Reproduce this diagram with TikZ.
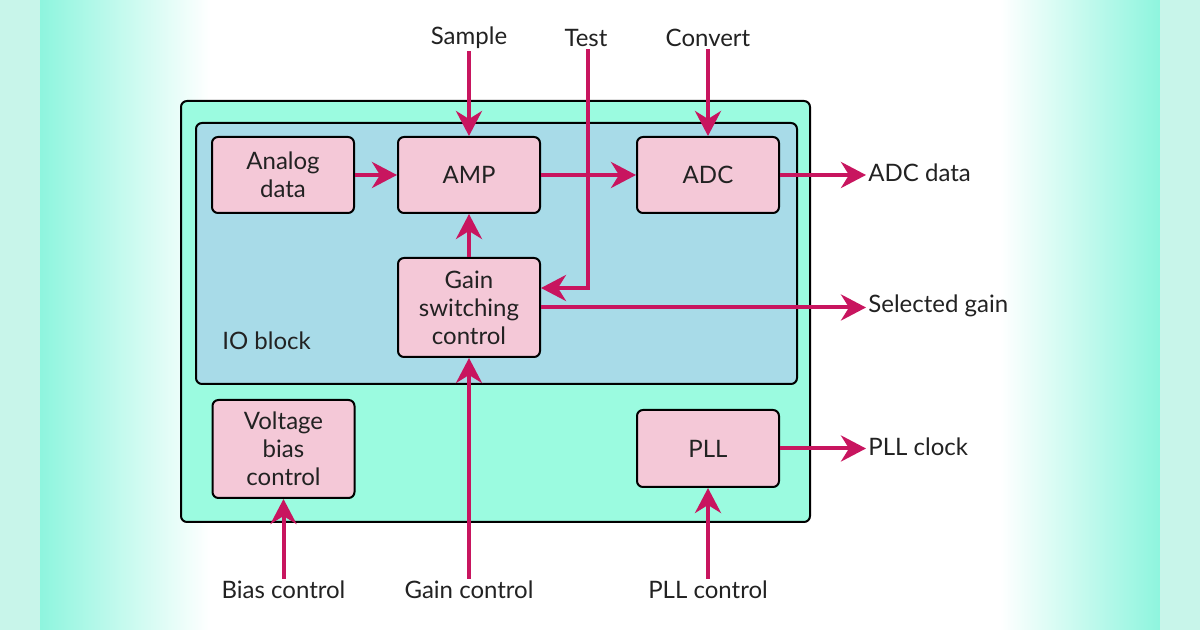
\documentclass[tikz,border=0pt]{standalone}
\usepackage{fontspec}
\setmainfont{Lato}
\usetikzlibrary{arrows.meta}
\definecolor{mint}{HTML}{9BFBE0}
\definecolor{iob}{HTML}{A8DBE8}
\definecolor{pinkbox}{HTML}{F4C8D7}
\definecolor{mag}{HTML}{C8155F}
\definecolor{bgcyan}{HTML}{8EF5DE}
\definecolor{strip}{HTML}{C8F5EA}
\definecolor{txt}{HTML}{222222}
\tikzset{
  box/.style={draw=black, line width=1pt, fill=pinkbox, rounded corners=3pt,
    minimum width=71pt, align=center, text=txt, font=\fontsize{12}{14}\selectfont, inner sep=0pt},
  lbl/.style={text=txt, font=\fontsize{12}{14}\selectfont, inner sep=1pt},
  arr/.style={draw=mag, line width=2pt, -{Stealth[length=12.5pt, width=13pt, inset=4pt]}},
  line/.style={draw=mag, line width=2pt}
}
\begin{document}
\begin{tikzpicture}[x=0.5pt, y=-0.5pt]
\useasboundingbox (0,0) rectangle (1200,630);
% background
\fill[white] (0,0) rectangle (1200,630);
\shade[left color=bgcyan, right color=white] (40,0) rectangle (210,630);
\fill[strip] (0,0) rectangle (40,630);
\shade[left color=white, right color=bgcyan] (1000,0) rectangle (1160,630);
\fill[strip] (1160,0) rectangle (1200,630);
% containers
\draw[line width=1pt, fill=mint, rounded corners=3pt] (181,101) rectangle (810,522);
\draw[line width=1pt, fill=iob, rounded corners=3pt] (196,123) rectangle (797,384);
\node[lbl, anchor=west] (io) at (220,341) {IO block};
% blocks
\node[box, minimum height=38pt] (analog) at (283,175) {Analog\\data};
\node[box, minimum height=38pt] (amp) at (469,175) {AMP};
\node[box, minimum height=38pt] (adc) at (708,175) {ADC};
\node[box, minimum height=49.5pt] (gain) at (469,307.5) {Gain\\switching\\control};
\node[box, minimum height=49pt] (bias) at (283.5,449) {Voltage\\bias\\control};
\node[box, minimum height=38.5pt] (pll) at (708,448.5) {PLL};
% external labels
\node[lbl] (sample) at (469,38) {Sample};
\node[lbl] (test) at (586,38) {Test};
\node[lbl] (convert) at (708,38) {Convert};
\node[lbl, anchor=west] (adcdata) at (866,173) {ADC data};
\node[lbl, anchor=west] (selgain) at (866,306) {Selected gain};
\node[lbl, anchor=west] (pllclk) at (866,447) {PLL clock};
\node[lbl] (biasc) at (283.5,590) {Bias control};
\node[lbl] (gainc) at (469,590) {Gain control};
\node[lbl] (pllc) at (708,590) {PLL control};
% connectors
\draw[arr] (sample) -- (amp);
\draw[arr] (convert) -- (adc);
\draw[arr] (analog) -- (amp);
\draw[arr] (amp) -- (adc);
\draw[arr] (gain) -- (amp);
\coordinate (tcorner) at (588,288);
\draw[arr] (test.south -| tcorner) -- (tcorner) -- (tcorner -| gain.east);
\draw[arr] (adc.east) -- (adc.east -| adcdata.west);
\draw[arr] (gain.east) -- (gain.east -| selgain.west);
\draw[arr] (pll.east) -- (pll.east -| pllclk.west);
\draw[arr] (gainc) -- (gain);
\draw[arr] (biasc) -- (bias);
\draw[arr] (pllc) -- (pll);
\end{tikzpicture}
\end{document}
